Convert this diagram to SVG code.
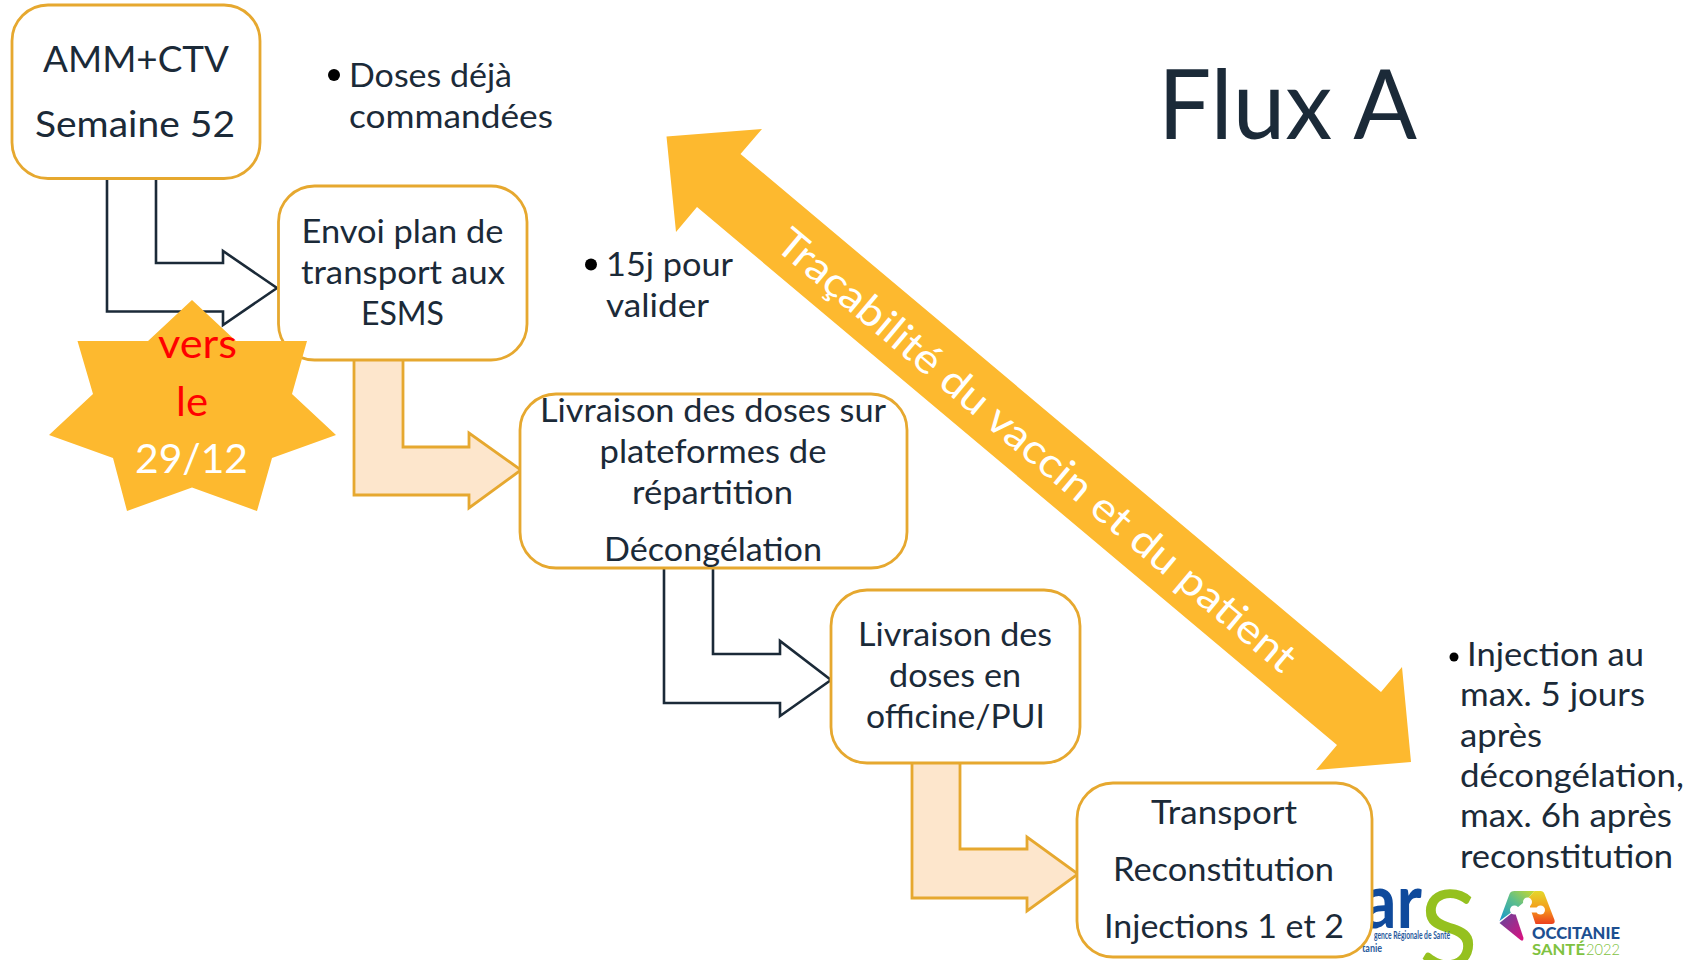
<svg xmlns="http://www.w3.org/2000/svg" width="1686" height="960" viewBox="0 0 1686 960">
<style>
text{font-family:"Lato","Carlito","Liberation Sans",sans-serif;fill:#1b2a38}
.t{font-size:33px;text-anchor:start}
.box{fill:#fff;stroke:#e6a82f;stroke-width:2.8}
.out{fill:#fff;stroke:#1b2a38;stroke-width:2.6}
.peach{fill:#fde6cc;stroke:#e6a82f;stroke-width:2.8}
</style>
<defs>
<linearGradient id="occ1" x1="0" y1="1" x2="1" y2="0"><stop offset="0" stop-color="#1597cf"/><stop offset="0.55" stop-color="#5fbf8a"/><stop offset="1" stop-color="#c9d92c"/></linearGradient>
<linearGradient id="occ2" x1="0" y1="0" x2="0" y2="1"><stop offset="0" stop-color="#e4d82a"/><stop offset="0.55" stop-color="#f59a1c"/><stop offset="1" stop-color="#ec3f1e"/></linearGradient>
<linearGradient id="occ3" x1="0" y1="0" x2="1" y2="1"><stop offset="0" stop-color="#5a4a9e"/><stop offset="1" stop-color="#dd0f7e"/></linearGradient>
</defs>
<rect width="1686" height="960" fill="#fff"/>
<g id="logo-ars">
<text x="1362" y="928" font-size="76" font-weight="700" style="fill:#0f4a9c" textLength="60" lengthAdjust="spacingAndGlyphs">ar</text>
<text x="1419" y="968" font-size="108" style="fill:#95c11f" textLength="59" lengthAdjust="spacingAndGlyphs">S</text>
<text x="1374" y="939" font-size="10.500" style="fill:#2a5a9c" font-weight="700" textLength="76" lengthAdjust="spacingAndGlyphs">gence Régionale de Santé</text>
<text x="1362" y="952" font-size="10.500" style="fill:#2a5a9c" font-weight="700" textLength="20" lengthAdjust="spacingAndGlyphs">tanie</text>
</g>
<g id="logo-occitanie" >
<g transform="translate(-5.500,0)">
<path d="M1505 921L1515 894Q1516 891 1520 891H1540L1532 900L1520 910Z" fill="url(#occ1)"/>
<path d="M1540 891H1546Q1549 891 1550 894L1560 920Q1561 924 1557 924H1541L1537 912L1532 900Z" fill="url(#occ2)"/>
<path d="M1505 923L1520 911L1529 938Q1529 942 1526 940Z" fill="url(#occ3)"/>
<path d="M1520 910H1546M1533 902V914" fill="none" stroke="#fff" stroke-width="5"/>
<circle cx="1533" cy="902" r="4.500" fill="#fff"/><circle cx="1520" cy="910" r="4.500" fill="#fff"/><circle cx="1546" cy="910" r="4.500" fill="#fff"/>
</g>
<text x="1532" y="939" font-size="16" font-weight="900" style="fill:#1d4f91" textLength="88" lengthAdjust="spacingAndGlyphs">OCCITANIE</text>
<text x="1532" y="955" font-size="16" font-weight="700" style="fill:#7fc241" textLength="53" lengthAdjust="spacingAndGlyphs">SANTÉ</text>
<text x="1586" y="955" font-size="16" font-weight="300" style="fill:#7fc241" textLength="34" lengthAdjust="spacingAndGlyphs">2022</text>
</g>
<g id="connectors">
<path class="out" d="M107 178V311.500H223V325L277 288L223 251V263H156V178"/>
<path class="peach" d="M354 360V495H469V508L521 470L469 433V447H403V360"/>
<path class="out" d="M664 568V703H780V716L831 680L780 641V654H713V568"/>
<path class="peach" d="M912 763V898H1027V911L1078 874L1027 837V849H960V763"/>
</g>
<g id="node-amm"><rect class="box" x="12" y="5" width="248" height="173.500" rx="36"/>
<text x="43" y="72" font-size="37" textLength="186" lengthAdjust="spacingAndGlyphs">AMM+CTV</text>
<text x="35" y="137" font-size="37" textLength="200" lengthAdjust="spacingAndGlyphs">Semaine 52</text></g>
<g id="node-envoi"><rect class="box" x="278.500" y="186" width="248.500" height="174" rx="36"/>
<text class="t" x="301.500" y="243" textLength="202" lengthAdjust="spacingAndGlyphs">Envoi plan de</text>
<text class="t" x="301" y="283.500" textLength="204" lengthAdjust="spacingAndGlyphs">transport aux</text>
<text class="t" x="361" y="325" textLength="83" lengthAdjust="spacingAndGlyphs">ESMS</text></g>
<g id="node-livraison-plateformes"><rect class="box" x="520" y="394" width="387" height="174" rx="36"/>
<text class="t" x="540" y="422" textLength="346" lengthAdjust="spacingAndGlyphs">Livraison des doses sur</text>
<text class="t" x="599.500" y="463" textLength="227" lengthAdjust="spacingAndGlyphs">plateformes de</text>
<text class="t" x="632" y="503.500" textLength="161" lengthAdjust="spacingAndGlyphs">répartition</text>
<text class="t" x="604" y="561" textLength="218" lengthAdjust="spacingAndGlyphs">Décongélation</text></g>
<g id="node-livraison-officine"><rect class="box" x="831" y="590" width="249" height="173" rx="36"/>
<text class="t" x="858" y="646" textLength="194" lengthAdjust="spacingAndGlyphs">Livraison des</text>
<text class="t" x="889" y="687" textLength="132" lengthAdjust="spacingAndGlyphs">doses en</text>
<text class="t" x="866" y="728" textLength="179" lengthAdjust="spacingAndGlyphs">officine/PUI</text></g>
<g id="node-transport"><rect class="box" x="1077" y="783" width="295" height="174" rx="36"/>
<text class="t" x="1151" y="824" textLength="146" lengthAdjust="spacingAndGlyphs">Transport</text>
<text class="t" x="1113" y="881" textLength="221" lengthAdjust="spacingAndGlyphs">Reconstitution</text>
<text class="t" x="1104" y="938" textLength="240" lengthAdjust="spacingAndGlyphs">Injections 1 et 2</text></g>
<g id="star"><polygon fill="#fdb92f" points="192,300 236,341 307,341 292,394 336,435 272,458 257,511 192,487.500 127,511 113,458 49,435 93,394 77.500,341 148,341"/>
<text x="158" y="358" font-size="41" style="fill:#ff0000" textLength="79" lengthAdjust="spacingAndGlyphs">vers</text>
<text x="176" y="415.500" font-size="41" style="fill:#ff0000" textLength="32" lengthAdjust="spacingAndGlyphs">le</text>
<text x="135" y="473" font-size="41" style="fill:#fff" textLength="113" lengthAdjust="spacingAndGlyphs">29/12</text></g>
<g id="double-arrow"><polygon fill="#fdb92f" points="666.500,136.500 762,129 740.500,154 1381,692 1402,667 1411,762 1316,770 1337,745 697,207 676,232"/>
<text transform="translate(1036,451) rotate(40)" x="0" y="13" font-size="41" text-anchor="middle" style="fill:#fff" textLength="664" lengthAdjust="spacingAndGlyphs">Traçabilité du vaccin et du patient</text></g>
<g id="note-doses"><circle cx="334" cy="75" r="6"/>
<text class="t" x="349" y="86.500" textLength="163" lengthAdjust="spacingAndGlyphs">Doses déjà</text>
<text class="t" x="349" y="128" textLength="204" lengthAdjust="spacingAndGlyphs">commandées</text></g>
<g id="note-15j"><circle cx="591" cy="264.500" r="6"/>
<text class="t" x="606" y="275.500" textLength="127" lengthAdjust="spacingAndGlyphs">15j pour</text>
<text class="t" x="606" y="317" textLength="103" lengthAdjust="spacingAndGlyphs">valider</text></g>
<g id="note-injection"><circle cx="1454" cy="657" r="4.500"/>
<text class="t" x="1467" y="666" textLength="177" lengthAdjust="spacingAndGlyphs">Injection au</text>
<text class="t" x="1460" y="706" textLength="185" lengthAdjust="spacingAndGlyphs">max. 5 jours</text>
<text class="t" x="1460" y="747" textLength="82" lengthAdjust="spacingAndGlyphs">après</text>
<text class="t" x="1460" y="787" textLength="224" lengthAdjust="spacingAndGlyphs">décongélation,</text>
<text class="t" x="1460" y="827" textLength="212" lengthAdjust="spacingAndGlyphs">max. 6h après</text>
<text class="t" x="1460" y="868" textLength="213" lengthAdjust="spacingAndGlyphs">reconstitution</text></g>
<g id="title"><text x="1158" y="139" font-size="97" textLength="259" lengthAdjust="spacingAndGlyphs">Flux A</text></g>
</svg>
